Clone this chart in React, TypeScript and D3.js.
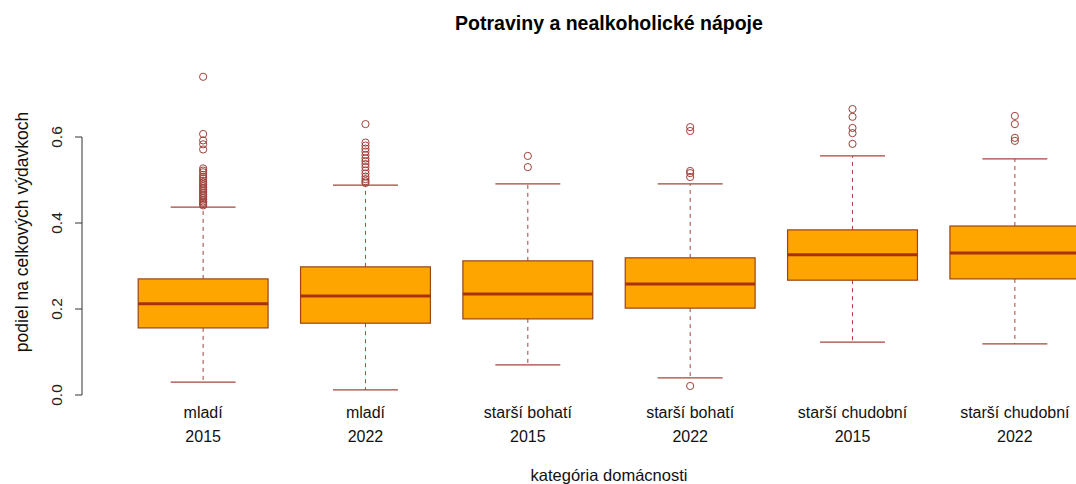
import React from "react";
import * as d3 from "d3";

const title = "Potraviny a nealkoholické nápoje";
const yTitle = "podiel na celkových výdavkoch";
const xTitle = "kategória domácnosti";

const groups = ["mladí", "mladí", "starší bohatí", "starší bohatí", "starší chudobní", "starší chudobní"];
const years = ["2015", "2022", "2015", "2022", "2015", "2022"];

const lowWhiskers = [0.030, 0.012, 0.070, 0.040, 0.123, 0.119];
const q1s = [0.156, 0.167, 0.177, 0.202, 0.267, 0.270];
const medians = [0.212, 0.230, 0.235, 0.258, 0.326, 0.330];
const q3s = [0.270, 0.298, 0.312, 0.319, 0.384, 0.393];
const highWhiskers = [0.437, 0.488, 0.491, 0.491, 0.556, 0.549];

const outliers1 = [0.740, 0.607, 0.592, 0.583, 0.571, 0.527, 0.522, 0.518, 0.512, 0.507, 0.503, 0.498, 0.494, 0.490, 0.486, 0.482, 0.478, 0.474, 0.470, 0.466, 0.462, 0.458, 0.454, 0.450, 0.447, 0.444, 0.441];
const outliers2 = [0.630, 0.587, 0.580, 0.573, 0.566, 0.558, 0.550, 0.544, 0.537, 0.530, 0.522, 0.515, 0.508, 0.502, 0.497, 0.493];
const outliers3 = [0.556, 0.530];
const outliers4 = [0.623, 0.614, 0.521, 0.516, 0.507, 0.021];
const outliers5 = [0.665, 0.647, 0.621, 0.609, 0.584];
const outliers6 = [0.649, 0.630, 0.598, 0.591];
const outlierSets = [outliers1, outliers2, outliers3, outliers4, outliers5, outliers6];

const yTicks = [0, 0.2, 0.4, 0.6];

const FONT = "'Liberation Sans', Arial, Helvetica, sans-serif";
const BOX_FILL = "#FFA500";
const BOX_BORDER = "#9A4418";
const WHISK = "#A5443A";
const MED = "#A8320F";
const OUT = "#A0403A";

export default function App() {
  const W = 1076, H = 484;
  const x = d3.scaleLinear().domain([0.26, 6.74]).range([83, 1135]);
  const y = d3.scaleLinear().domain([0, 0.6]).range([395, 137]);
  const half = 0.4;
  const capHalf = 0.2;
  const axisX = x.range()[0] - 1;

  return (
    <div style={{ position: "fixed", left: 0, top: 0, width: W, height: H, background: "#fff" }}>
      <svg width={W} height={H} style={{ display: "block" }} fontFamily={FONT}>
        <rect x={0} y={0} width={W} height={H} fill="#fff" />
        <text x={(x.range()[0] + x.range()[1]) / 2} y={30} textAnchor="middle" fontWeight="bold" fontSize={19.5} fill="#000">
          {title}
        </text>

        {/* y axis */}
        <line x1={axisX} x2={axisX} y1={y(0)} y2={y(0.6)} stroke="#333" strokeWidth={1} />
        {yTicks.map((t) => (
          <g key={t}>
            <line x1={axisX - 7} x2={axisX} y1={y(t)} y2={y(t)} stroke="#333" strokeWidth={1} />
            <text transform={`translate(62,${y(t)}) rotate(-90)`} textAnchor="middle" fontSize={15.5} fill="#222">
              {d3.format(".1f")(t)}
            </text>
          </g>
        ))}
        <text transform={`translate(28,${232}) rotate(-90)`} textAnchor="middle" fontSize={17.5} fill="#111">
          {yTitle}
        </text>

        {/* boxes */}
        {groups.map((g, i) => {
          const c = x(i + 1);
          const l = x(i + 1 - half);
          const r = x(i + 1 + half);
          const cl = x(i + 1 - capHalf);
          const cr = x(i + 1 + capHalf);
          return (
            <g key={i}>
              <line x1={c} x2={c} y1={y(q3s[i])} y2={y(highWhiskers[i])} stroke={WHISK} strokeDasharray="4,4" strokeWidth={1} />
              <line x1={c} x2={c} y1={y(q1s[i])} y2={y(lowWhiskers[i])} stroke={WHISK} strokeDasharray="4,4" strokeWidth={1} />
              <line x1={cl} x2={cr} y1={y(highWhiskers[i])} y2={y(highWhiskers[i])} stroke={WHISK} strokeWidth={1.3} />
              <line x1={cl} x2={cr} y1={y(lowWhiskers[i])} y2={y(lowWhiskers[i])} stroke={WHISK} strokeWidth={1.3} />
              <rect x={l} y={y(q3s[i])} width={r - l} height={y(q1s[i]) - y(q3s[i])} fill={BOX_FILL} stroke={BOX_BORDER} strokeWidth={1.2} />
              <line x1={l} x2={r} y1={y(medians[i])} y2={y(medians[i])} stroke={MED} strokeWidth={3} />
              {outlierSets[i].map((v, j) => (
                <circle key={j} cx={c} cy={y(v)} r={3.6} fill="none" stroke={OUT} strokeWidth={1} />
              ))}
              <text x={c} y={418} textAnchor="middle" fontSize={16} fill="#111">{g}</text>
              <text x={c} y={442} textAnchor="middle" fontSize={16} fill="#111">{years[i]}</text>
            </g>
          );
        })}

        <text x={(x.range()[0] + x.range()[1]) / 2} y={481} textAnchor="middle" fontSize={16.5} fill="#111">
          {xTitle}
        </text>
      </svg>
    </div>
  );
}
